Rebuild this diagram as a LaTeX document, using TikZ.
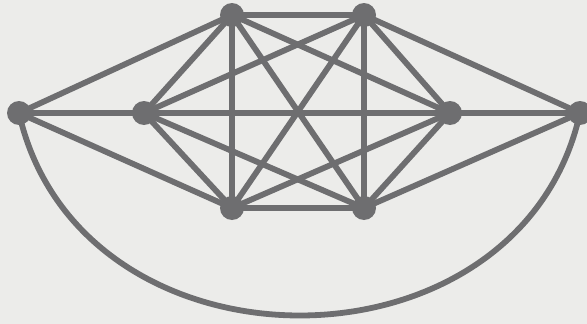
\documentclass[tikz,border=0pt]{standalone}
\begin{document}
\begin{tikzpicture}[x=1pt,y=-1pt,
  edge/.style={draw=lineg, line width=5.8pt},
  vtx/.style={circle, fill=lineg, inner sep=0pt, minimum size=24pt}]
\definecolor{lineg}{RGB}{110,110,112}
\definecolor{paper}{RGB}{236,236,234}
\fill[paper] (0,0) rectangle (587,324);
\useasboundingbox (0,0) rectangle (587,324);
\coordinate (A) at (19,113);
\coordinate (B) at (144,113);
\coordinate (C) at (232,15);
\coordinate (D) at (364,15);
\coordinate (E) at (450,113);
\coordinate (F) at (580,113);
\coordinate (G) at (232,208);
\coordinate (H) at (364,208);
\foreach \u/\v in {A/B,A/C,A/G,B/C,B/D,B/E,B/G,B/H,C/D,C/G,C/H,C/E,D/G,D/H,D/E,D/F,E/G,E/H,E/F,G/H,H/F}
  \draw[edge] (\u) -- (\v);
\draw[edge] (A) .. controls (80,383) and (520,383) .. (F);
\foreach \n in {A,B,C,D,E,F,G,H} \node[vtx] (v\n) at (\n) {};
\end{tikzpicture}
\end{document}
